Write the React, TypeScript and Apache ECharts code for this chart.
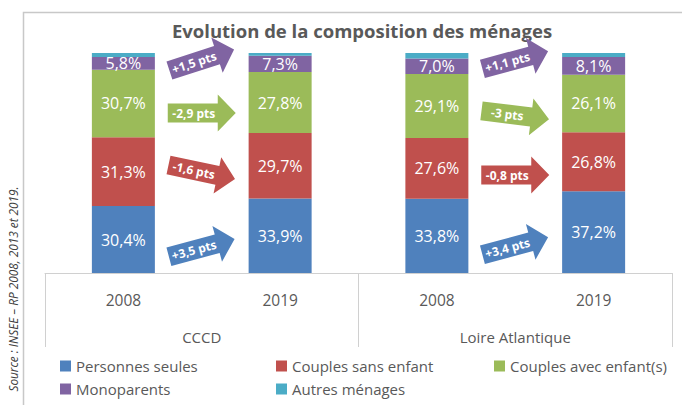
import React, { useEffect, useRef } from "react";
import * as echarts from "echarts";

const categories = ["2008", "2019", "2008", "2019"];
const groups = ["CCCD", "Loire Atlantique"];
const seriesNames = [
  "Personnes seules",
  "Couples sans enfant",
  "Couples avec enfant(s)",
  "Monoparents",
  "Autres ménages",
];
const personnesSeules = [30.4, 33.9, 33.8, 37.2];
const couplesSansEnfant = [31.3, 29.7, 27.6, 26.8];
const couplesAvecEnfants = [30.7, 27.8, 29.1, 26.1];
const monoparents = [5.8, 7.3, 7.0, 8.1];
const autresMenages = [1.8, 1.3, 2.5, 1.8];
const colors = ["#4F81BD", "#C0504D", "#9BBB59", "#8064A2", "#4BACC6"];

// evolution arrows: one row per territory, order purple, green, red, blue
const arrowLabels = [
  ["+1,5 pts", "-2,9 pts", "-1,6 pts", "+3,5 pts"],
  ["+1,1 pts", "-3 pts", "-0,8 pts", "+3,4 pts"],
];
const arrowColors = [colors[3], colors[2], colors[1], colors[0]];
const arrowLevels = [
  [96.8, 72.7, 45.9, 11.4],
  [96.8, 71.8, 44.5, 12.3],
];
const arrowTilts = [
  [18, 0, -12, 15],
  [15, -7, 0, 15],
];

// legend layout: [left, top] for each series
const legendSlots = [
  [60, 358],
  [276, 358],
  [494, 358],
  [60, 381],
  [276, 381],
];

const FONT = "'Open Sans', 'Noto Sans', sans-serif";
const fmt = (v: number) => v.toFixed(1).replace(".", ",") + "%";

export default function App() {
  const ref = useRef<HTMLDivElement>(null);
  useEffect(() => {
    if (!ref.current) return;
    const chart = echarts.init(ref.current, null, { renderer: "svg" });
    const dataSets = [personnesSeules, couplesSansEnfant, couplesAvecEnfants, monoparents, autresMenages];
    const series = dataSets.map((d, i) => ({
      name: seriesNames[i],
      type: "bar",
      stack: "total",
      barWidth: 63,
      data: d,
      itemStyle: { color: colors[i] },
      label: {
        show: i < 4,
        position: "inside",
        color: "#ffffff",
        fontSize: 16,
        fontFamily: FONT,
        formatter: (p: any) => fmt(p.value),
      },
    }));
    const legends = seriesNames.map((n, i) => ({
      left: legendSlots[i][0],
      top: legendSlots[i][1],
      itemWidth: 11,
      itemHeight: 11,
      itemGap: 4,
      padding: 0,
      selectedMode: false,
      icon: "rect",
      data: [n],
      textStyle: { fontSize: 15, color: "#595959", fontFamily: FONT, lineHeight: 16, padding: [0, 0, 0, 0] },
    }));
    chart.setOption({
      animation: false,
      grid: { left: 45, right: 10, top: 53, bottom: 132 },
      xAxis: [
        {
          type: "category",
          data: categories,
          position: "bottom",
          axisLine: { show: true, lineStyle: { color: "#d0d0d0", width: 1 } },
          axisTick: { show: false },
          axisLabel: { margin: 19, fontSize: 15.5, color: "#595959", fontFamily: FONT },
        },
        {
          type: "category",
          data: groups,
          position: "bottom",
          axisLine: { show: false },
          axisTick: { show: true, length: 74, lineStyle: { color: "#d0d0d0", width: 1 } },
          axisLabel: { margin: 56, fontSize: 15, color: "#595959", fontFamily: FONT },
        },
      ],
      yAxis: { type: "value", min: 0, max: 100, show: false },
      legend: legends,
      series,
    });

    const graphics: any[] = [
      {
        type: "rect",
        shape: { x: 23.5, y: 12.5, width: 720, height: 500 },
        style: { fill: "none", stroke: "#c8c8c8", lineWidth: 1.5 },
        silent: true,
      },
      {
        type: "text",
        x: 362,
        y: 30,
        style: {
          text: "Evolution de la composition des ménages",
          fontSize: 18.5,
          fontWeight: "bold",
          fontFamily: FONT,
          fill: "#595959",
          textAlign: "center",
          textVerticalAlign: "middle",
        },
      },
      {
        type: "text",
        x: 13,
        y: 289,
        rotation: Math.PI / 2,
        style: {
          text: "Source : INSEE – RP 2008, 2013 et 2019.",
          fontSize: 11.8,
          fontStyle: "italic",
          fontFamily: FONT,
          fill: "#404040",
          textAlign: "center",
          textVerticalAlign: "middle",
        },
      },
    ];

    for (let g = 0; g < 2; g++) {
      const x0 = chart.convertToPixel({ xAxisIndex: 0 }, g * 2) as any as number;
      const x1 = chart.convertToPixel({ xAxisIndex: 0 }, g * 2 + 1) as any as number;
      const cx = (x0 + x1) / 2;
      for (let k = 0; k < 4; k++) {
        const cy = chart.convertToPixel({ yAxisIndex: 0 }, arrowLevels[g][k]) as any as number;
        graphics.push({
          type: "group",
          x: cx,
          y: cy,
          rotation: (arrowTilts[g][k] * Math.PI) / 180,
          children: [
            {
              type: "polygon",
              shape: {
                points: [
                  [-34, -9.5],
                  [16, -9.5],
                  [16, -18.5],
                  [34, 0],
                  [16, 18.5],
                  [16, 9.5],
                  [-34, 9.5],
                ],
              },
              style: { fill: arrowColors[k] },
            },
            {
              type: "text",
              x: -8,
              y: 0,
              style: {
                text: arrowLabels[g][k],
                fontSize: 12,
                fontWeight: "bold",
                fontFamily: FONT,
                fill: "#ffffff",
                textAlign: "center",
                textVerticalAlign: "middle",
              },
            },
          ],
        });
      }
    }
    chart.setOption({ graphic: graphics });
    return () => chart.dispose();
  }, []);
  return (
    <div
      ref={ref}
      style={{ position: "fixed", left: 0, top: 0, width: 682, height: 405, background: "#ffffff" }}
    />
  );
}
